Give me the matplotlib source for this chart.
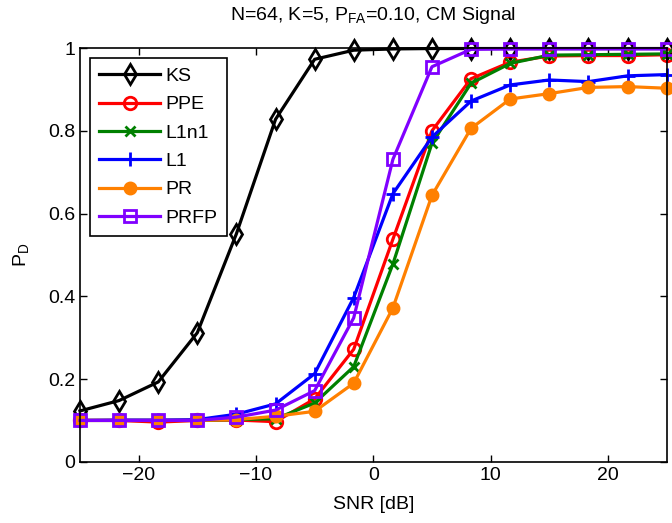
import matplotlib
matplotlib.use('Agg')
import matplotlib.pyplot as plt

plt.rcParams['font.family'] = ['Liberation Sans', 'DejaVu Sans']
plt.rcParams['mathtext.fontset'] = 'custom'
plt.rcParams['mathtext.rm'] = 'Liberation Sans'
plt.rcParams['mathtext.it'] = 'Liberation Sans'

snr = [-25, -21.67, -18.33, -15, -11.67, -8.33, -5, -1.67,
       1.67, 5, 8.33, 11.67, 15, 18.33, 21.67, 25]

ks   = [0.123, 0.148, 0.193, 0.312, 0.551, 0.828, 0.973, 0.995,
        0.998, 0.999, 0.999, 0.999, 0.999, 0.999, 0.999, 0.999]
ppe  = [0.100, 0.100, 0.096, 0.100, 0.101, 0.097, 0.152, 0.272,
        0.538, 0.800, 0.926, 0.966, 0.981, 0.982, 0.982, 0.984]
l1n1 = [0.100, 0.100, 0.100, 0.100, 0.102, 0.104, 0.142, 0.230,
        0.478, 0.770, 0.915, 0.963, 0.983, 0.984, 0.985, 0.986]
l1   = [0.100, 0.101, 0.101, 0.102, 0.115, 0.140, 0.213, 0.397,
        0.648, 0.785, 0.872, 0.911, 0.923, 0.919, 0.933, 0.936]
pr   = [0.100, 0.100, 0.100, 0.100, 0.102, 0.110, 0.122, 0.190,
        0.372, 0.644, 0.806, 0.877, 0.890, 0.905, 0.907, 0.903]
prfp = [0.100, 0.100, 0.100, 0.100, 0.108, 0.125, 0.172, 0.348,
        0.731, 0.955, 0.997, 0.998, 0.998, 0.998, 0.998, 0.998]

names = ['KS', 'PPE', 'L1n1', 'L1', 'PR', 'PRFP']
series = [ks, ppe, l1n1, l1, pr, prfp]
colors = ['black', '#ff0000', '#008000', '#0000ff', '#ff8000', '#8000ff']
markers = ['d', 'o', 'x', '+', 'o', 's']
msizes = [10.5, 9, 7, 10, 8, 8]
fills = ['none', 'none', None, None, '#ff8000', 'none']

fig = plt.figure(figsize=(6.72, 5.23), dpi=100)
ax = fig.add_axes([0.119, 0.117, 0.873, 0.791])

for y, name, c, m, ms, f in zip(series, names, colors, markers, msizes, fills):
    kw = dict(color=c, marker=m, markersize=ms, linewidth=2.3,
              markeredgewidth=2.0, label=name, clip_on=False)
    if f is not None:
        kw['markerfacecolor'] = f
    ax.plot(snr, y, **kw)

ax.set_xlim(-25, 25)
ax.set_ylim(0, 1)
ax.set_xticks([-20, -10, 0, 10, 20])
ax.set_yticks([0, 0.2, 0.4, 0.6, 0.8, 1])
ax.set_yticklabels(['0', '0.2', '0.4', '0.6', '0.8', '1'])
ax.tick_params(direction='in', top=True, right=True, length=5,
               labelsize=14, width=1)
for s in ax.spines.values():
    s.set_linewidth(1.2)

ax.set_xlabel('SNR [dB]', fontsize=14, labelpad=9)
ax.set_ylabel(r'P$_{\rm D}$', fontsize=14, labelpad=12)
ax.set_title(r'N=64, K=5, P$_{\rm FA}$=0.10, CM Signal', fontsize=14, pad=20)

leg = ax.legend(loc='upper left', fontsize=14, handlelength=3.1,
                labelspacing=0.55, borderaxespad=0.5, fancybox=False,
                framealpha=1, edgecolor='black', handletextpad=0.3,
                borderpad=0.5)
leg.get_frame().set_linewidth(1.2)

fig.savefig('out.png', dpi=100)
